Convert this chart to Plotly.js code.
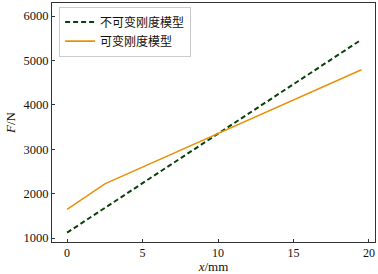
<!DOCTYPE html>
<html><head><meta charset="utf-8">
<script src="https://cdn.plot.ly/plotly-3.0.1.min.js"></script>
<style>body{margin:0;padding:0;background:#fff}#c{width:378px;height:274px}</style>
</head><body><div id="c"></div>
<script>
const seriesNames = ['不可变刚度模型', '可变刚度模型'];
const xFixed = [0, 19.5];
const yFixed = [1120, 5470];
const xVar = [0, 2.5, 19.5];
const yVar = [1645, 2220, 4790];
const xTicks = [0, 5, 10, 15, 20];
const yTicks = [1000, 2000, 3000, 4000, 5000, 6000];

const traces = [
  {x: xFixed, y: yFixed, mode: 'lines', name: seriesNames[0],
   line: {color: '#0a420a', width: 2, dash: '5px,3px'}},
  {x: xVar, y: yVar, mode: 'lines', name: seriesNames[1],
   line: {color: '#e8920c', width: 1.6}}
];
const axisCommon = {
  showgrid: false, zeroline: false, showline: true, mirror: true,
  linecolor: '#333', linewidth: 1, ticks: 'inside', ticklen: 3, tickcolor: '#333',
  tickfont: {family: 'Liberation Serif, serif', size: 12.5, color: '#111'}
};
const layout = {
  width: 378, height: 274,
  margin: {l: 52, r: 3, t: 3, b: 32},
  paper_bgcolor: '#fff', plot_bgcolor: '#fff',
  showlegend: true,
  legend: {x: 0.022, y: 0.985, xanchor: 'left', yanchor: 'top',
    bgcolor: 'rgba(255,255,255,0.8)', bordercolor: '#ccc', borderwidth: 1,
    font: {family: 'Noto Sans CJK SC, sans-serif', size: 12, color: '#111'},
    tracegroupgap: 0, itemwidth: 30},
  xaxis: Object.assign({}, axisCommon, {range: [-1.0, 20.4], tickvals: xTicks,
    tickfont: {family: 'Liberation Serif, serif', size: 12, color: '#111'},
    title: {text: '<i>x</i>/mm', standoff: 2, font: {family: 'Liberation Serif, serif', size: 13, color: '#111'}}}),
  yaxis: Object.assign({}, axisCommon, {range: [910, 6295], tickvals: yTicks,
    title: {text: '<i>F</i>/N', standoff: 4, font: {family: 'Liberation Serif, serif', size: 13, color: '#111'}}})
};
Plotly.newPlot('c', traces, layout, {displayModeBar: false, staticPlot: true});
</script></body></html>
